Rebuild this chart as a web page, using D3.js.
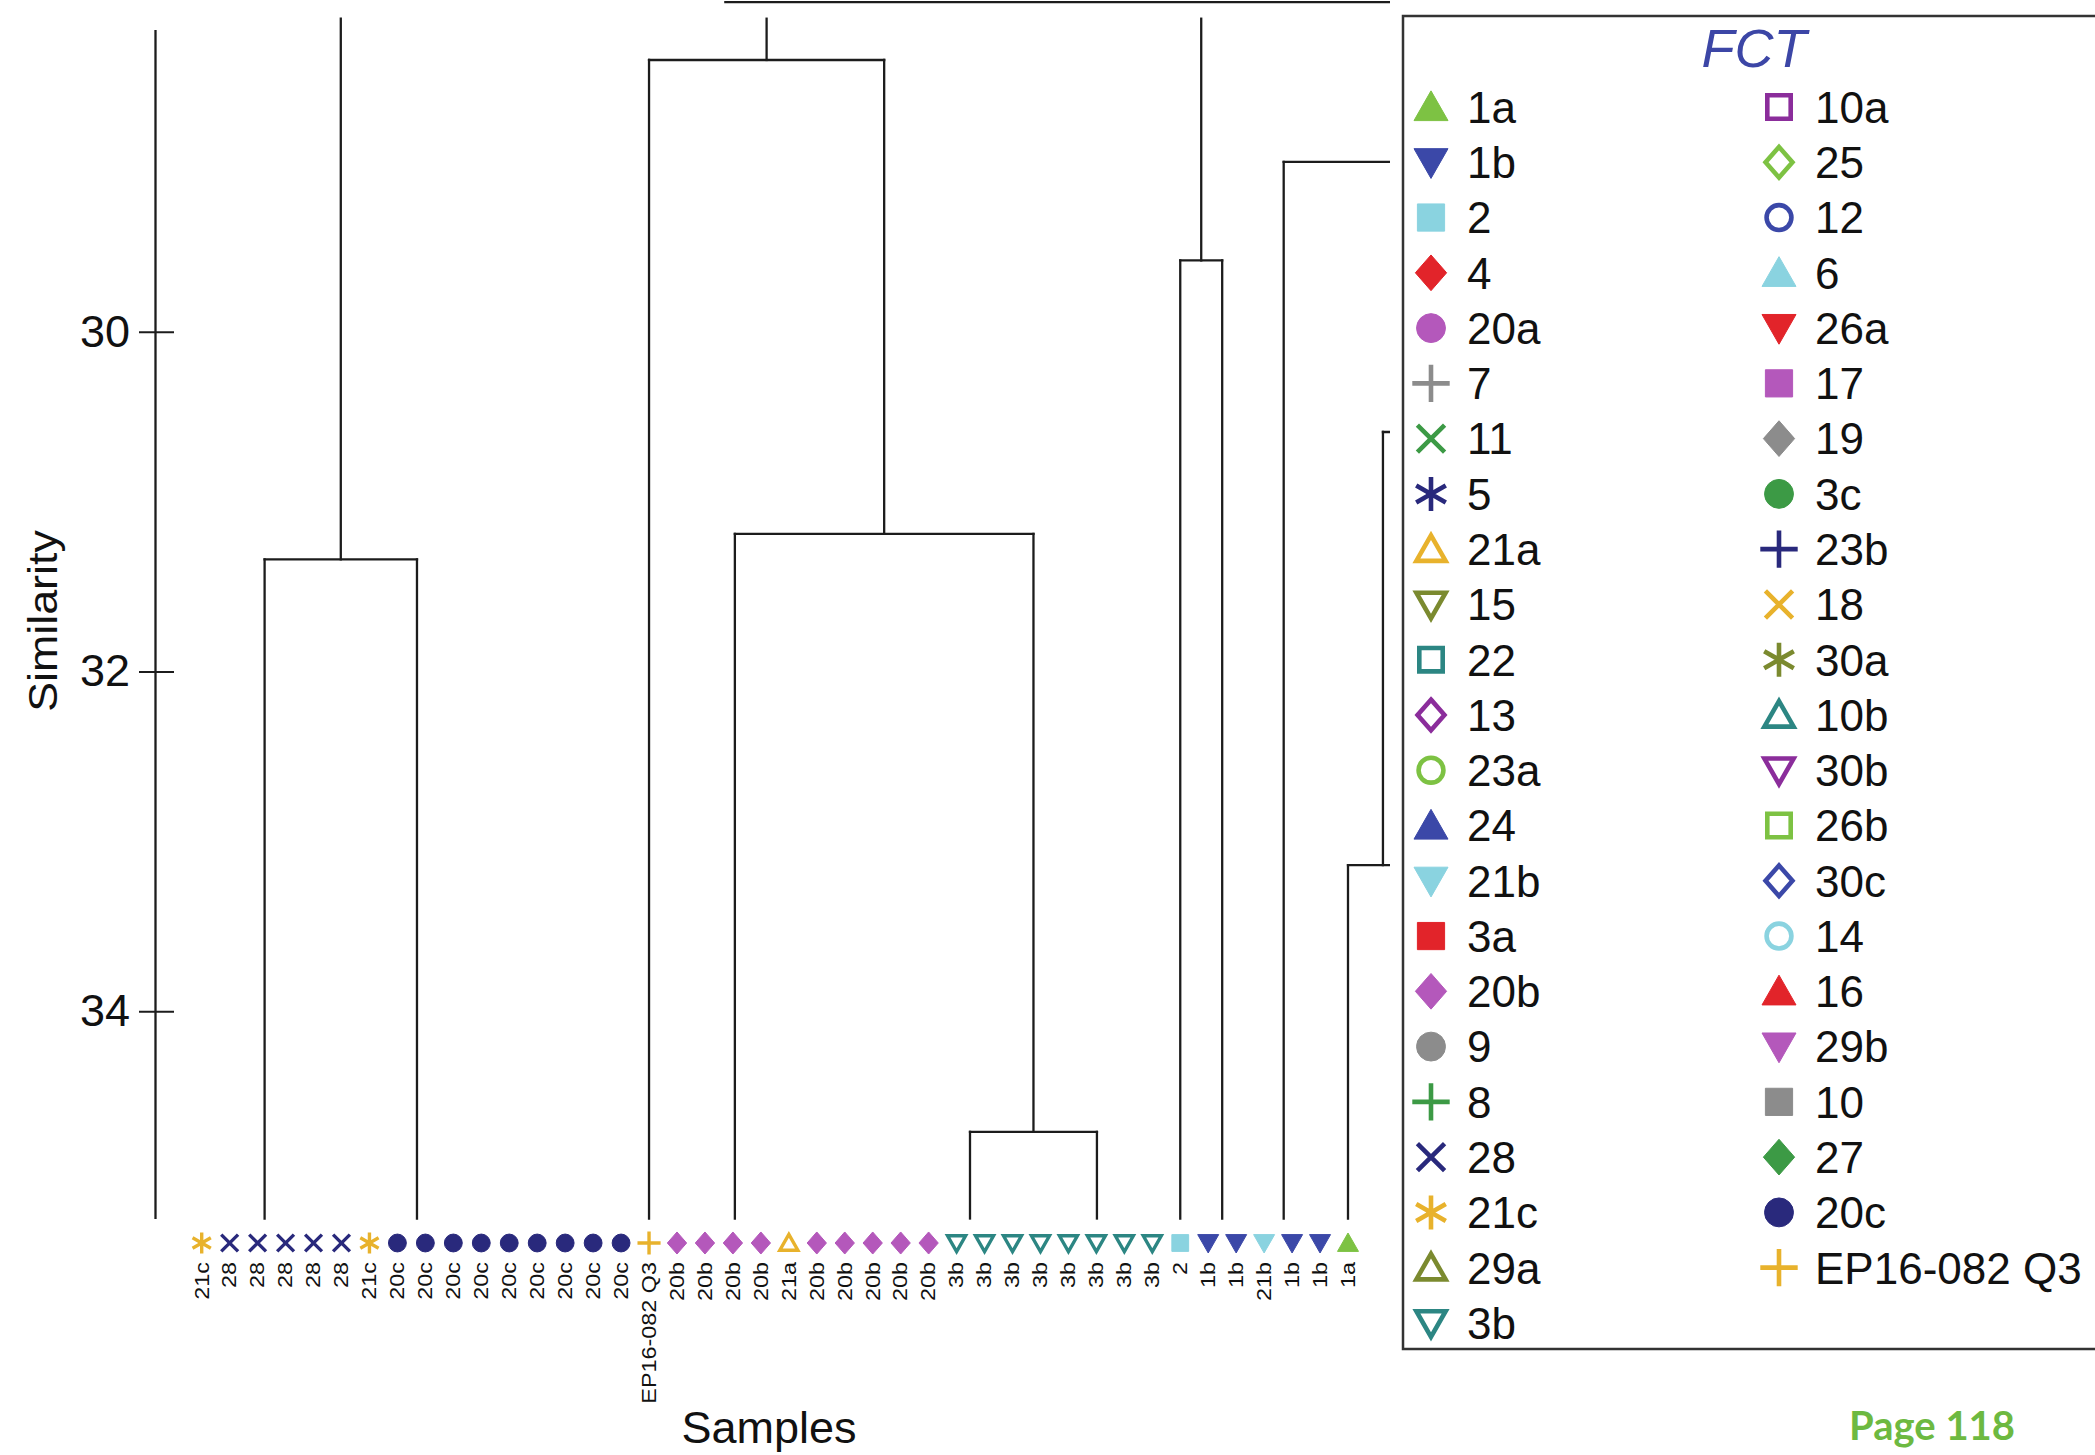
<!DOCTYPE html>
<html>
<head>
<meta charset="utf-8">
<script src="https://cdn.jsdelivr.net/npm/d3@7"></script>
<style>
  body { margin: 0; background: #fff; }
  svg text { font-family: "Liberation Sans", Arial, sans-serif; }
</style>
</head>
<body>
<div id="chart"></div>
<script>
// samples along the bottom, left to right
const leafLabels = ["21c","28","28","28","28","28","21c",
  "20c","20c","20c","20c","20c","20c","20c","20c","20c",
  "EP16-082 Q3",
  "20b","20b","20b","20b","21a","20b","20b","20b","20b","20b",
  "3b","3b","3b","3b","3b","3b","3b","3b",
  "2","1b","1b","21b","1b","1b","1a"];

// FCT legend (left column then right column)
const fctLevels = ["1a","1b","2","4","20a","7","11","5","21a","15","22","13","23a","24","21b","3a","20b","9","8","28","21c","29a","3b",
  "10a","25","12","6","26a","17","19","3c","23b","18","30a","10b","30b","26b","30c","14","16","29b","10","27","20c","EP16-082 Q3"];
const fctShapes = ["triUp","triDown","square","diamond","circle","plus","times","asterisk","openTriUp","openTriDown","openSquare","openDiamond","openCircle",
  "triUp","triDown","square","diamond","circle","plus","times","asterisk","openTriUp","openTriDown",
  "openSquare","openDiamond","openCircle","triUp","triDown","square","diamond","circle","plus","times","asterisk","openTriUp","openTriDown",
  "openSquare","openDiamond","openCircle","triUp","triDown","square","diamond","circle","plus"];
const fctColors = ["#7dc243","#3b48a8","#8ad3e0","#e2242a","#b458bb","#8c8c8c","#3c9a45","#29297c","#e8b22c","#7b8a2f","#2c8683","#8b2d9b","#7dc243",
  "#3b48a8","#8ad3e0","#e2242a","#b458bb","#8c8c8c","#3c9a45","#29297c","#e8b22c","#7b8a2f","#2c8683",
  "#8b2d9b","#7dc243","#3b48a8","#8ad3e0","#e2242a","#b458bb","#8c8c8c","#3c9a45","#29297c","#e8b22c","#7b8a2f","#2c8683","#8b2d9b",
  "#7dc243","#3b48a8","#8ad3e0","#e2242a","#b458bb","#8c8c8c","#3c9a45","#29297c","#e8b22c"];

// similarity axis
const yTicks = [30, 32, 34];

// groups already joined below the visible window (position in leaf units)
const groupIds = ["a1","a2","ep","b1","b2","b3","c1","c2","d1","e1","e2","f1","g1"];
const groupPos = [2.25, 7.7, 16, 19.07, 27.48, 32.02, 35, 36.5, 38.7, 41, 43.5, 47, 48];

// visible merges: left child, right child, similarity level
const mergeIds   = ["A","B3","B2","B","C","E1","E","D"];
const mergeLeft  = ["a1","b2","b1","ep","c1","e1","E1","d1"];
const mergeRight = ["a2","b3","B3","B2","c2","e2","f1","g1"];
const mergeSim   = [31.34, 34.71, 31.19, 28.40, 29.58, 33.14, 30.59, 29.0];

const baseSim = 35.22;   // bottom of plot
const windowTop = 28.157; // where the top connectors are cut off
const topEdge = { from: 18.73, to: 50, sim: 28.06 };

const W = 2095, H = 1455;
const svg = d3.select("#chart").append("svg")
    .attr("width", W).attr("height", H)
    .style("background", "#fff");

const y = d3.scaleLinear().domain([28.22, baseSim]).range([29.4, 1218.5]);
const x = d3.scaleLinear().domain([0, leafLabels.length - 1]).range([201.7, 1348]);

function markerPath(shape, r) {
    const p = d3.path();
    const k = shape.startsWith("open") ? 0.86 : 1;
    const s = r * k;
    switch (shape.replace("open", "").toLowerCase()) {
        case "triup":
            p.moveTo(0, -0.95 * s); p.lineTo(s, 0.8 * s); p.lineTo(-s, 0.8 * s); p.closePath(); break;
        case "tridown":
            p.moveTo(0, 0.95 * s); p.lineTo(s, -0.8 * s); p.lineTo(-s, -0.8 * s); p.closePath(); break;
        case "square":
            p.rect(-0.8 * s, -0.8 * s, 1.6 * s, 1.6 * s); break;
        case "diamond":
            p.moveTo(0, -1.05 * s); p.lineTo(0.92 * s, 0); p.lineTo(0, 1.05 * s); p.lineTo(-0.92 * s, 0); p.closePath(); break;
        case "circle":
            p.arc(0, 0, 0.85 * s, 0, 2 * Math.PI); break;
        case "plus":
            p.moveTo(-1.1 * s, 0); p.lineTo(1.1 * s, 0); p.moveTo(0, -1.1 * s); p.lineTo(0, 1.1 * s); break;
        case "times":
            p.moveTo(-0.8 * s, -0.8 * s); p.lineTo(0.8 * s, 0.8 * s); p.moveTo(-0.8 * s, 0.8 * s); p.lineTo(0.8 * s, -0.8 * s); break;
        case "asterisk":
            p.moveTo(0, -s); p.lineTo(0, s);
            p.moveTo(-0.87 * s, -0.5 * s); p.lineTo(0.87 * s, 0.5 * s);
            p.moveTo(-0.87 * s, 0.5 * s); p.lineTo(0.87 * s, -0.5 * s); break;
    }
    return p.toString();
}

function isFilled(shape) {
    return !shape.startsWith("open") && !["plus","times","asterisk"].includes(shape);
}

function drawMarker(sel, shape, color, r, sw) {
    sel.append("path")
        .attr("d", markerPath(shape, r))
        .attr("fill", isFilled(shape) ? color : "none")
        .attr("stroke", color)
        .attr("stroke-width", isFilled(shape) ? 1 : sw)
        .attr("stroke-linejoin", "miter");
}

// ---- dendrogram ----
const nodes = {};
groupIds.forEach((id, i) => nodes[id] = { pos: groupPos[i], sim: baseSim });
const segs = [];
const hasParent = new Set();
mergeIds.forEach((id, i) => {
    const L = nodes[mergeLeft[i]], R = nodes[mergeRight[i]];
    const s = mergeSim[i];
    segs.push({ x1: L.pos, x2: R.pos, y1: s, y2: s });
    segs.push({ x1: L.pos, x2: L.pos, y1: L.sim, y2: s });
    segs.push({ x1: R.pos, x2: R.pos, y1: R.sim, y2: s });
    hasParent.add(mergeLeft[i]); hasParent.add(mergeRight[i]);
    nodes[id] = { pos: (L.pos + R.pos) / 2, sim: s };
});
mergeIds.filter(id => !hasParent.has(id)).forEach(id => {
    const n = nodes[id];
    segs.push({ x1: n.pos, x2: n.pos, y1: n.sim, y2: windowTop });
});
segs.push({ x1: topEdge.from, x2: topEdge.to, y1: topEdge.sim, y2: topEdge.sim });

svg.append("defs").append("clipPath").attr("id", "treeClip")
  .append("rect").attr("x", 0).attr("y", 0).attr("width", 1390).attr("height", 1230);

svg.append("g").attr("clip-path", "url(#treeClip)")
  .selectAll("line").data(segs).enter().append("line")
    .attr("x1", d => x(d.x1)).attr("x2", d => x(d.x2))
    .attr("y1", d => y(d.y1)).attr("y2", d => y(d.y2))
    .attr("stroke", "#1c1c1c").attr("stroke-width", 2.3)
    .attr("stroke-linecap", "square");

// ---- axis ----
const axisG = svg.append("g").attr("transform", "translate(155,0)")
    .call(d3.axisLeft(y).tickValues(yTicks).tickSize(16).tickPadding(9).tickSizeOuter(0).tickFormat(d3.format("d")));
axisG.select(".domain").attr("stroke", "#1c1c1c").attr("stroke-width", 2.3);
axisG.selectAll(".tick line").attr("x1", 19).attr("stroke", "#1c1c1c").attr("stroke-width", 2);
axisG.selectAll(".tick text")
    .style("font-family", "'Liberation Sans', Arial, sans-serif")
    .style("font-size", "45px").attr("fill", "#111");

svg.append("text")
    .attr("transform", "translate(43,621) rotate(-90) scale(1.12,1)")
    .attr("text-anchor", "middle").attr("dy", "0.35em")
    .style("font-size", "40px").attr("fill", "#111")
    .text("Similarity");

// ---- leaves ----
const styleOf = name => {
    const i = fctLevels.indexOf(name);
    return { shape: fctShapes[i], color: fctColors[i] };
};
const leafG = svg.append("g");
leafLabels.forEach((name, i) => {
    const st = styleOf(name);
    const g = leafG.append("g").attr("transform", `translate(${x(i)},1243)`);
    drawMarker(g, st.shape, st.color, 10.5, 3.4);
    leafG.append("text")
        .attr("transform", `translate(${x(i)},1262) rotate(-90) scale(1.2,1)`)
        .attr("text-anchor", "end").attr("dy", "0.35em")
        .style("font-size", "19.5px").attr("fill", "#111")
        .text(name);
});

svg.append("text")
    .attr("x", 769).attr("y", 1443)
    .attr("text-anchor", "middle")
    .style("font-size", "45px").attr("fill", "#111")
    .text("Samples");

// ---- legend ----
const legend = svg.append("g");
legend.append("rect")
    .attr("x", 1403).attr("y", 16)
    .attr("width", W - 1403 + 20).attr("height", 1333)
    .attr("fill", "#fff").attr("stroke", "#333").attr("stroke-width", 2.5);

legend.append("text")
    .attr("x", 1754).attr("y", 67)
    .attr("text-anchor", "middle")
    .style("font-size", "54px").style("font-style", "italic")
    .attr("fill", "#3c46a6")
    .text("FCT");

const col1Count = 23;
fctLevels.forEach((name, i) => {
    const col = i < col1Count ? 0 : 1;
    const row = col === 0 ? i : i - col1Count;
    const cy = 107 + row * 55.27;
    const sx = col === 0 ? 1431 : 1779;
    const tx = col === 0 ? 1467 : 1815;
    const g = legend.append("g").attr("transform", `translate(${sx},${cy})`);
    drawMarker(g, fctShapes[i], fctColors[i], 17, 4.6);
    legend.append("text")
        .attr("x", tx).attr("y", cy).attr("dy", "0.36em")
        .style("font-size", "44px").attr("fill", "#111")
        .text(name);
});

svg.append("text")
    .attr("x", 2015).attr("y", 1440)
    .attr("text-anchor", "end")
    .style("font-family", "Lato, 'Open Sans', sans-serif")
    .style("font-weight", "bold").style("font-size", "40px")
    .attr("fill", "#6db941")
    .text("Page 118");
</script>
</body>
</html>
